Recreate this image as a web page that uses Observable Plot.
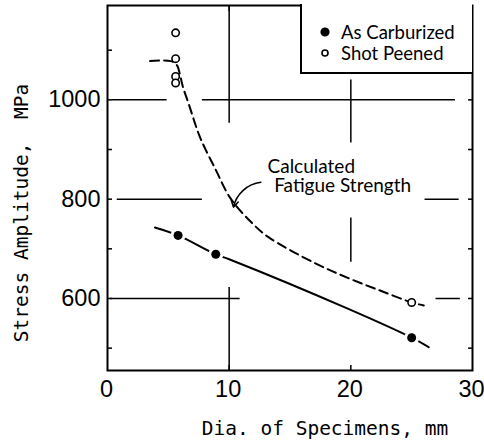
<!DOCTYPE html>
<html><head><meta charset="utf-8">
<script src="https://cdn.jsdelivr.net/npm/d3@7"></script>
<script src="https://cdn.jsdelivr.net/npm/@observablehq/plot@0.6"></script>
<style>
body{margin:0;background:#fff;}
#wrap{position:relative;width:484px;height:445px;}
#legend{position:absolute;left:300px;top:4px;width:172px;height:70px;border-left:2px solid #000;border-bottom:2px solid #000;box-sizing:border-box;background:#fff;}
</style></head>
<body><div id="wrap"><div id="chart"></div><div id="legend"></div></div>
<script>
// ---- data ----
const seriesNames = ["As Carburized", "Shot Peened"];
const carbX = [5.8, 8.9, 25];
const carbY = [727, 689, 521];
const peenX = [5.6, 5.6, 5.6, 5.6, 25];
const peenY = [1135, 1083, 1047, 1034, 592];
const carbLineX = [3.9, 5.8, 8.9, 10.1, 19.7, 25, 26.4];
const carbLineY = [743, 727, 689, 678, 580, 521, 502];
const calcX = [3.5, 5.2, 5.7, 6.0, 6.2, 6.7, 7.6, 8.9, 10.1, 11.8, 13.2, 16.9, 19.7, 22.4, 25, 26];
const calcY = [1078, 1078, 1070, 1046, 1026, 990, 925, 859, 802, 754, 724, 673, 642, 616, 592, 586];
const xTicks = [0, 10, 20, 30];
const yTicks = [600, 800, 1000];
const yMinor = [500, 600, 700, 800, 900, 1000, 1100];
const xTitle = "Dia. of Specimens, mm";
const yTitle = "Stress Amplitude,  MPa";
const annotLines = ["Calculated", "Fatigue Strength"];
const annotX = [13.15, 13.7];
const annotY = [865, 826];
const leader = [{x1: 12.6, y1: 834, x2: 10.35, y2: 784}];
// partial grid segments (data units)
const hGrid = [
  {y: 1000, x1: 0.4, x2: 4.9}, {y: 1000, x1: 7.8, x2: 28.6},
  {y: 800, x1: 0.8, x2: 7.8}, {y: 800, x1: 26.1, x2: 28.9},
  {y: 600, x1: 0.25, x2: 10.9}, {y: 600, x1: 27, x2: 29}
];
const vGrid = [
  {x: 10, y1: 953, y2: 1190}, {x: 10, y1: 455, y2: 622},
  {x: 20, y1: 913, y2: 1040}, {x: 20, y1: 673, y2: 762}
];

const carb = carbX.map((x, i) => ({x, y: carbY[i]}));
const peen = peenX.map((x, i) => ({x, y: peenY[i]}));
const carbLine = carbLineX.map((x, i) => ({x, y: carbLineY[i]}));
const calc = calcX.map((x, i) => ({x, y: calcY[i]}));
const annot = annotLines.map((t, i) => ({x: annotX[i], y: annotY[i], t}));

const tickFont = "'Liberation Sans', Arimo, sans-serif";
const chart = Plot.plot({
  width: 484, height: 445,
  marginLeft: 107, marginRight: 12, marginTop: 5, marginBottom: 75,
  x: {domain: [0, 30]},
  y: {domain: [455, 1190]},
  style: {fontFamily: "DejaVu Sans", fontSize: "20px", color: "#000", background: "#fff", overflow: "visible"},
  marks: [
    Plot.ruleY(hGrid, {y: "y", x1: "x1", x2: "x2", stroke: "#000", strokeWidth: 1.5}),
    Plot.ruleX(vGrid, {x: "x", y1: "y1", y2: "y2", stroke: "#000", strokeWidth: 1.5}),
    Plot.axisX({ticks: xTicks, tickSize: 0, tickPadding: 10, dx: -1, label: null, fontSize: 23.5, fontFamily: tickFont}),
    Plot.axisX({ticks: [10, 20], anchor: "bottom", tickSize: -5, tickFormat: () => "", label: null, strokeWidth: 1.5}),
    Plot.axisX({ticks: [10, 20], anchor: "top", tickSize: -5, tickFormat: () => "", label: null, strokeWidth: 1.5}),
    Plot.axisY({ticks: yTicks, tickSize: 0, tickPadding: 7, tickFormat: d => String(d), label: null, fontSize: 23.5, fontFamily: tickFont}),
    Plot.axisY({ticks: yMinor, anchor: "left", tickSize: -5, tickFormat: () => "", label: null, strokeWidth: 1.5}),
    Plot.axisY({ticks: yMinor, anchor: "right", tickSize: -5, tickFormat: () => "", label: null, strokeWidth: 1.5}),
    Plot.frame({stroke: "#000", strokeWidth: 2}),
    Plot.line(calc, {x: "x", y: "y", curve: "catmull-rom", stroke: "#000", strokeWidth: 2, strokeDasharray: "9,5"}),
    Plot.line(carbLine, {x: "x", y: "y", curve: "catmull-rom", stroke: "#000", strokeWidth: 2}),
    Plot.dot(carb, {x: "x", y: "y", r: 7.5, fill: "#fff"}),
    Plot.dot(carb, {x: "x", y: "y", r: 4.5, fill: "#000"}),
    Plot.dot(peen, {x: "x", y: "y", r: 3.7, fill: "#fff", stroke: "#000", strokeWidth: 1.6}),
    Plot.text(annot, {x: "x", y: "y", text: "t", textAnchor: "start", fontFamily: "Lato", fontSize: 19}),
    Plot.arrow(leader, {x1: "x1", y1: "y1", x2: "x2", y2: "y2", bend: -35, headLength: 7, strokeWidth: 1.5, stroke: "#000"}),
    Plot.text([yTitle], {frameAnchor: "left", textAnchor: "middle", lineAnchor: "middle", rotate: -90, dx: -86, dy: 25, fontFamily: "DejaVu Sans Mono", fontSize: 19.5}),
    Plot.text([xTitle], {frameAnchor: "bottom", textAnchor: "middle", lineAnchor: "middle", dx: 35, dy: 58, fontFamily: "DejaVu Sans Mono", fontSize: 19.5})
  ]
});
document.getElementById("chart").appendChild(chart);

// legend built from series names
const lg = d3.select("#legend").append("svg").attr("width", 170).attr("height", 68);
seriesNames.forEach((name, i) => {
  const cy = 28 + i * 21;
  lg.append("circle").attr("cx", 23).attr("cy", cy)
    .attr("r", i === 0 ? 3.8 : 3)
    .attr("fill", i === 0 ? "#000" : "#fff").attr("stroke", "#000").attr("stroke-width", 1.6);
  lg.append("text").attr("x", 39).attr("y", cy + 6.5)
    .attr("font-family", "Lato").attr("font-size", 18.5).text(name);
});
</script>
</body></html>
